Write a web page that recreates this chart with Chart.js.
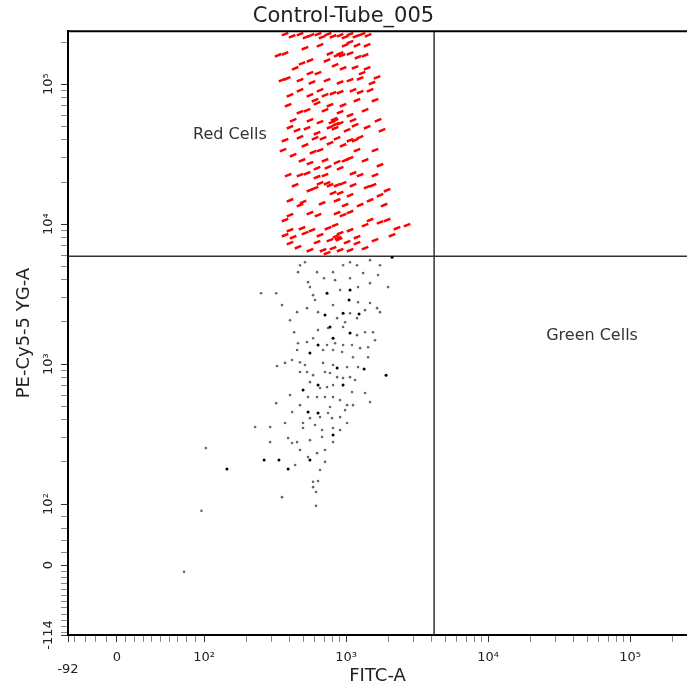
<!DOCTYPE html>
<html>
<head>
<meta charset="utf-8">
<script src="https://cdn.jsdelivr.net/npm/chart.js@4/dist/chart.umd.min.js"></script>
<style>
  html, body { margin: 0; padding: 0; background: #fff; }
  #wrap { width: 687px; height: 694px; }
</style>
</head>
<body>
<div id="wrap"><canvas id="plot" width="687" height="694"></canvas></div>
<script>
// events in the PE-Cy5-5 positive gate (red)
const redFitc = [372, 417, 474, 523, 567, 635, 678, 747, 810, 908, 985, 1067, 1175, 1297, 1430,
  1067, 1407, 771, 908, 1067, 1215, 372, 332, 865, 938, 557, 490, 438, 953, 1157, 1407,
  1653, 1297, 557, 635, 354, 385, 576, 735, 908, 1067, 1256, 1524, 656, 810, 908, 1120,
  711, 1195, 953, 625, 771, 531, 474, 908, 1067, 424, 557, 656, 837, 908, 1120, 1407,
  1793, 403, 452, 531, 625, 771, 837, 1017, 797, 851, 823, 474, 605, 689, 865, 1067,
  1256, 514, 771, 953, 1195, 424, 586, 490, 711, 865, 1067, 557, 625, 747, 908, 1120,
  1256, 531, 625, 735, 865, 953, 1120, 1407, 1549, 605, 656, 810, 908, 1067, 1945, 1735,
  498, 678, 865, 557, 635, 865, 953, 1067, 1476, 1735, 1945, 2286, 2690, 490, 576, 747,
  908, 1067, 1195, 424, 514, 403, 625, 771, 879, 1017, 1195, 689, 810, 908, 1067, 735,
  372, 459, 557, 851, 893, 438, 474, 403, 1476, 1362, 1600, 403, 474, 1362, 1600, 372,
  1256, 985, 711, 735, 656, 514, 403, 1362, 1600, 557, 1157, 1256,
  360, 391, 403, 372, 391, 1600, 1735, 1680, 1476, 1854, 2110, 474, 656, 771, 985, 605,
  985, 1195, 837, 1362, 474, 557, 1157, 711, 1362, 837, 656];
const redPe = [228000, 220000, 228000, 217000, 224000, 228000, 217000, 228000, 220000, 224000,
  217000, 228000, 220000, 228000, 224000, 200000, 190000, 166000, 166000, 166000, 156000,
  166000, 161000, 161000, 161000, 148000, 141000, 130000, 130000, 132000, 130000, 112000,
  120000, 120000, 120000, 107000, 110000, 103000, 107000, 103000, 107000, 110000, 102000,
  90600, 86300, 87700, 90600, 83400, 76900, 70800, 73100, 70800, 65200, 63100, 63100,
  60100, 55300, 55300, 53600, 55300, 52600, 55300, 49300, 46900, 49300, 46900, 48500,
  44700, 49300, 48500, 46900, 53600, 51800, 56200, 41800, 41100, 41100, 41100, 39800,
  41800, 36600, 37900, 36600, 33800, 31100, 32700, 28600, 28600, 27700, 29600, 27300,
  25100, 25500, 25100, 23100, 22400, 23100, 21700, 19600, 19000, 19600, 19000, 18400,
  19000, 18100, 19600, 16700, 16700, 16100, 17500, 16100, 14400, 14100, 14800, 12000,
  11600, 12000, 11600, 12200, 10700, 10300, 10700, 9360, 9840, 9360, 9060, 9360, 8630,
  9060, 8070, 8070, 8630, 7320, 7440, 7690, 7940, 7440, 7320, 6520, 6740, 6520, 6520,
  6210, 8340, 6850, 6520, 8200, 7810, 19000, 13700, 11600, 14800, 28600, 33800, 83400,
  90600, 65200, 76900, 39800, 13700, 28600, 65200, 148000, 190000, 181000, 9060, 6740,
  7690, 17500, 50900, 87700,
  33800, 22400, 14800, 10700, 70800, 22400, 26400, 55300, 90600, 13700, 8340, 22400,
  33800, 19000, 13700, 76900, 190000, 190000, 136700, 161000, 107000, 83400, 39800, 22400,
  9840, 9840, 8340];

// remaining events (grey / black)
const dotFitc = [474, 625, 810, 953, 1195, 1476, 459, 700, 837, 1067, 1319, 1680, 1977,
  540, 557, 908, 1215, 1476, 252, 322, 586, 1215, 1476, 1653, 1735, 354, 531, 635, 810,
  1067, 452, 865, 1195, 953, 1195, 1362, 1549, 431, 635, 747, 586, 531, 459, 735, 837,
  953, 1102, 1256, 1430, 452, 689, 810, 938, 1120, 1430, 417, 327, 372, 474, 689, 810,
  1017, 1215, 474, 531, 586, 711, 771, 865, 953, 1067, 557, 656, 735, 810, 1102, 1362,
  540, 625, 711, 810, 908, 1017, 1120, 1476, 322, 417, 557, 656, 747, 797, 908, 1017,
  229, 292, 372, 498, 498, 678, 810, 391, 417, 452, 292, 678, 810, 103, 540, 625, 711,
  711, 586, 635, 586, 354, 615, 97, 77, 615,
  514, 1067, 1735, 605, 1362, 403, 985, 1600, 514, 1157, 403, 771, 474, 985, 605, 908,
  557, 474, 656, 438];
const dotPe = [5090, 4540, 4540, 5090, 5090, 5530, 4540, 4110, 3980, 4110, 4470, 4330, 3550,
  3850, 3550, 3380, 3550, 3790, 3210, 3210, 3110, 2770, 2730, 2510, 2350, 2640, 2510, 2350,
  2640, 2310, 2350, 2130, 2130, 1840, 1610, 1690, 1690, 1690, 1750, 1810, 1530, 1440, 1410,
  1370, 1410, 1370, 1370, 1300, 1320, 1260, 1260, 1260, 1220, 1120, 1120, 1070, 968, 1020,
  1030, 1020, 984, 952, 952, 877, 877, 834, 877, 863, 807, 794, 807, 743, 674, 685, 708,
  631, 621, 581, 581, 581, 581, 553, 509, 509, 535, 526, 454, 411, 418, 447, 411, 418, 379,
  355, 355, 379, 379, 349, 338, 349, 296, 273, 277, 277, 301, 277, 251, 217, 231, 243, 200,
  144, 146, 132, 112, 97, 89, -11, 122,
  5350, 5350, 5090, 2870, 2430, 2060, 1990, 1480, 984, 769, 601, 493, 509, 469, 367, 338,
  286, 243, 175, 190];
const darkFitc = [2110, 735, 1067, 1050, 711, 953, 1235, 771, 1067, 810, 635, 557, 865, 1340,
  1914, 498, 635, 953, 540, 635, 810, 557, 265, 337, 145, 391];
const darkPe = [5810, 3210, 3380, 2870, 2240, 2310, 2280, 1840, 1670, 1530, 1370, 1200, 936,
  921, 834, 652, 708, 708, 454, 447, 311, 206, 206, 206, 178, 178];

const gateFitc = 4170;
const gatePe = 5910;
const quadLabels = ["Red Cells", "Green Cells"];
const quadFitc = [152, 54000];
const quadPe = [43200, 1585];

const xTickValues = [-92, 0, 100, 1000, 10000, 100000];
const xTickLabels = [["", "-92"], "0", "10²", "10³", "10⁴", "10⁵"];
const yTickValues = [-114, 0, 100, 1000, 10000, 100000];
const yTickLabels = ["-114", "0", "10²", "10³", "10⁴", "10⁵"];

// biexponential-like display: log above 100, linear through zero below
function makeBiex(minVal, uMin, uZero, uMax) {
  return {
    uMin, uMax,
    toU(v) {
      if (v >= 100) return Math.log10(v);
      if (v >= 0) return uZero + (2 - uZero) * v / 100;
      return uZero + (uZero - uMin) * v / -minVal;
    }
  };
}
const xBi = makeBiex(-92, 1.042, 1.387, 5.401);
const yBi = makeBiex(-114, 1.064, 1.564, 5.379);

function minorTicks(negStep, negMin, posStep) {
  const out = [];
  for (let v = -negStep; v > negMin; v -= negStep) out.push(v);
  for (let v = posStep; v < 100; v += posStep) out.push(v);
  for (let d = 100; d <= 100000; d *= 10) {
    for (let k = 2; k <= 9; k++) if (d * k < 262144) out.push(d * k);
  }
  return out;
}

function buildTicks(bi, values, labels, minors) {
  const t = values.map((v, i) => ({ value: bi.toU(v), lbl: labels[i], major: true }));
  minors.forEach(v => t.push({ value: bi.toU(v), lbl: "", major: false }));
  return t.sort((a, b) => a.value - b.value);
}

const pts = (xs, ys) => xs.map((x, i) => ({ x: xBi.toU(x), y: yBi.toU(ys[i]) }));

const font = '"DejaVu Sans", sans-serif';

const overlay = {
  id: "overlay",
  afterDatasetsDraw(chart) {
    const { ctx, chartArea: a, scales } = chart;
    ctx.save();
    ctx.strokeStyle = "#000";
    ctx.lineWidth = 2;
    ctx.beginPath();
    ctx.moveTo(a.left - 1, a.top);
    ctx.lineTo(a.right, a.top);
    ctx.stroke();
    ctx.font = "16px " + font;
    ctx.fillStyle = "#333";
    ctx.textAlign = "center";
    ctx.textBaseline = "middle";
    quadLabels.forEach((t, i) => {
      ctx.fillText(t, scales.x.getPixelForValue(xBi.toU(quadFitc[i])), scales.y.getPixelForValue(yBi.toU(quadPe[i])));
    });
    ctx.restore();
  }
};

new Chart(document.getElementById("plot"), {
  type: "scatter",
  data: {
    datasets: [
      { data: pts(darkFitc, darkPe), pointStyle: "circle", pointRadius: 1.5, backgroundColor: "#000", borderWidth: 0 },
      { data: pts(dotFitc, dotPe), pointStyle: "circle", pointRadius: 1.3, backgroundColor: "#666", borderWidth: 0 },
      { data: pts(redFitc, redPe), pointStyle: "line", rotation: -22, pointRadius: 3.5, borderColor: "#ff0000", borderWidth: 2.5 },
      { type: "line", data: [{ x: xBi.toU(gateFitc), y: yBi.uMin }, { x: xBi.toU(gateFitc), y: yBi.uMax }],
        borderColor: "#333", borderWidth: 1.5, pointRadius: 0 },
      { type: "line", data: [{ x: xBi.uMin, y: yBi.toU(gatePe) }, { x: xBi.uMax, y: yBi.toU(gatePe) }],
        borderColor: "#333", borderWidth: 1.5, pointRadius: 0 }
    ]
  },
  options: {
    responsive: false,
    animation: false,
    devicePixelRatio: 1,
    layout: { padding: 0, autoPadding: false },
    plugins: {
      legend: { display: false },
      tooltip: { enabled: false },
      title: {
        display: true,
        text: "Control-Tube_005",
        color: "#222",
        font: { family: font, size: 21, weight: "normal" },
        padding: { top: 4, bottom: 2 }
      }
    },
    scales: {
      x: {
        type: "linear",
        min: xBi.uMin,
        max: xBi.uMax,
        afterBuildTicks: s => { s.ticks = buildTicks(xBi, xTickValues, xTickLabels, minorTicks(20, -92, 10)); },
        afterFit: s => { s.height = 59; s.paddingRight = 0; s.paddingLeft = 0; },
        ticks: {
          autoSkip: false, minRotation: 0, maxRotation: 0, padding: 9,
          color: "#222", font: { family: font, size: 13, lineHeight: 0.95 },
          callback: (v, i, ticks) => ticks[i].lbl
        },
        grid: { drawOnChartArea: false, tickLength: 7, tickColor: c => c.tick && c.tick.major ? "#333" : "#888" },
        border: { color: "#000", width: 2 },
        title: { display: true, text: "FITC-A", color: "#222", font: { family: font, size: 18 }, padding: { bottom: 7 } }
      },
      y: {
        type: "linear",
        min: yBi.uMin,
        max: yBi.uMax,
        afterBuildTicks: s => { s.ticks = buildTicks(yBi, yTickValues, yTickLabels, minorTicks(10, -114, 20)); },
        afterFit: s => { s.width = 68; },
        ticks: {
          autoSkip: false, minRotation: 90, maxRotation: 90, crossAlign: "center", padding: -2,
          color: "#222", font: { family: font, size: 13 },
          callback: (v, i, ticks) => ticks[i].lbl
        },
        grid: { drawOnChartArea: false, tickLength: 7, tickColor: c => c.tick && c.tick.major ? "#333" : "#888" },
        border: { color: "#000", width: 2 },
        title: { display: true, text: "PE-Cy5-5 YG-A", color: "#222", font: { family: font, size: 18 }, padding: { top: 14 } }
      }
    }
  },
  plugins: [overlay]
});
</script>
</body>
</html>
